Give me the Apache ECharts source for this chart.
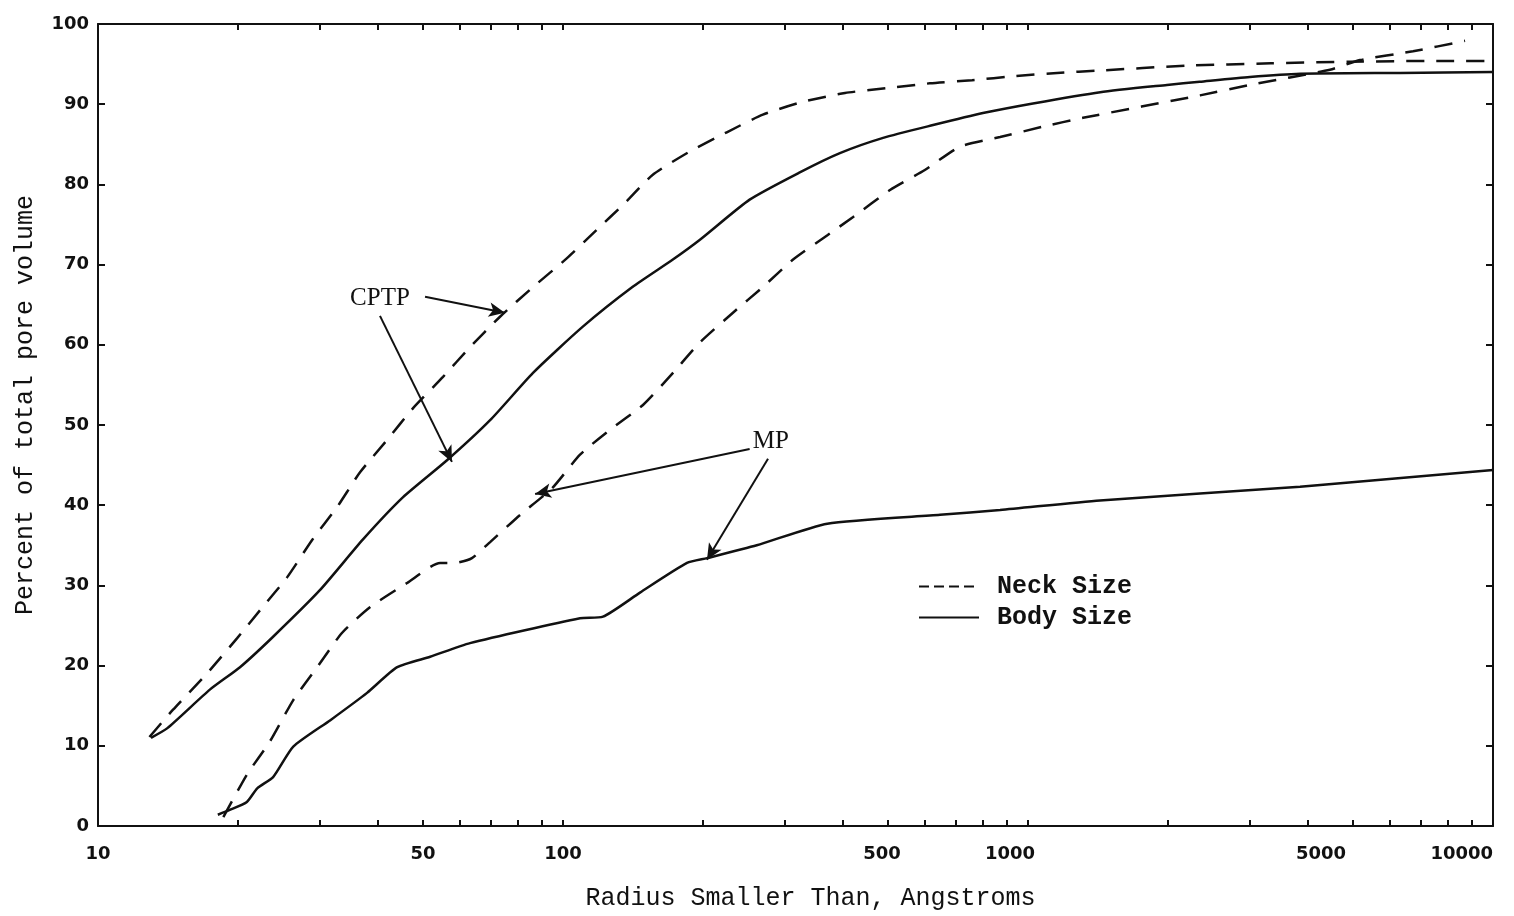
<!DOCTYPE html>
<html>
<head>
<meta charset="utf-8">
<title>Percent of total pore volume</title>
<script src="https://cdn.jsdelivr.net/npm/echarts@6/dist/echarts.min.js"></script>
<style>
  html, body { margin: 0; padding: 0; background: #fff; }
  #main { width: 1514px; height: 916px; }
</style>
</head>
<body>
<div id="main"></div>
<script>
// radius smaller than (Angstroms) / percent of total pore volume
var cptpNeckRadius = [12.9, 14.5, 17.2, 19.9, 22.6, 25.5, 28.9, 32.7, 36.6, 41.8, 47.6, 55.2, 63.1, 73.2, 86.2, 102, 118, 136, 156, 186, 225, 269, 328, 404, 498, 615, 758, 938, 1155, 1430, 2180, 3330, 4930, 7730, 10000];
var cptpNeckPct = [11.1, 14.5, 19.1, 23.4, 27.3, 31.0, 35.7, 39.8, 44.1, 48.1, 52.1, 56.0, 59.7, 63.5, 67.2, 70.8, 74.3, 77.7, 81.2, 84.0, 86.5, 88.7, 90.3, 91.4, 92.0, 92.6, 93.0, 93.5, 93.9, 94.2, 94.8, 95.1, 95.3, 95.4, 95.4];

var cptpBodyRadius = [13, 14.1, 17.4, 20.2, 23.8, 30, 37.1, 45.3, 56.3, 69.7, 86.2, 110, 141, 172, 197, 252, 323, 394, 488, 625, 800, 1025, 1430, 1990, 2340, 3000, 3850, 6310, 10000];
var cptpBodyPct = [11.0, 12.2, 17.0, 19.8, 23.6, 29.4, 35.7, 41.0, 45.6, 50.6, 56.5, 62.2, 67.2, 70.6, 73.1, 78.1, 81.5, 83.9, 85.8, 87.4, 88.9, 90.1, 91.5, 92.4, 92.8, 93.4, 93.8, 93.9, 94.0];

var mpNeckRadius = [18.6, 20.9, 23.4, 26.3, 29.6, 33.5, 38.5, 46.2, 54.4, 58.6, 63.7, 69.7, 80.9, 94.7, 108.8, 126.2, 148.6, 172.4, 197, 232, 269, 312, 371, 420, 505, 600, 714, 871, 1077, 1313, 2344, 3000, 4461, 5176, 6730, 8707];
var mpNeckPct = [1.1, 6.4, 10.5, 15.7, 19.8, 24.1, 27.3, 30.3, 32.8, 32.8, 33.4, 35.4, 38.8, 42.1, 46.3, 49.4, 52.5, 56.5, 60.3, 64.0, 67.2, 70.6, 73.7, 75.9, 79.3, 81.8, 84.7, 85.9, 87.2, 88.3, 91.1, 92.4, 94.3, 95.5, 96.6, 97.9];

var mpBodyRadius = [18.1, 19.2, 20.9, 22.0, 23.8, 26.3, 31.6, 37.9, 44.0, 51.8, 63.1, 108.8, 121.9, 146.4, 184.8, 204, 261, 370, 647, 871, 1428, 3846, 10000];
var mpBodyPct = [1.4, 2.0, 3.0, 4.7, 6.1, 9.9, 13.2, 16.6, 19.8, 21.1, 22.8, 25.9, 26.1, 29.1, 32.8, 33.4, 35.0, 37.7, 38.8, 39.4, 40.6, 42.3, 44.4];

var xLabels = [10, 50, 100, 500, 1000, 5000, 10000];
var xTicks = [10, 20, 30, 40, 50, 60, 70, 80, 90, 100, 200, 300, 400, 500, 600, 700, 800, 900, 1000, 2000, 3000, 4000, 5000, 6000, 7000, 8000, 9000, 10000];

// annotations: [radius, percent]
var cptpLabel = [40.4, 65.8];
var mpLabel = [280, 48.0];
var arrows = [
  [[50.5, 66.0], [75.0, 64.0]],
  [[40.4, 63.6], [57.7, 45.4]],
  [[252, 47.0], [87.1, 41.4]],
  [[276, 45.8], [204, 33.2]]
];

function pairs(xs, ys) {
  return xs.map(function(x, i) { return [x, ys[i]]; });
}

var ink = "#111";
var mono = "'Liberation Mono', 'DejaVu Sans Mono', monospace";
var tickFont = { fontFamily: "'DejaVu Sans', sans-serif", fontWeight: "bold", fontSize: 18, color: ink };
var labelShift = { 500: 12, 1000: 36, 5000: 64 };

var chart = echarts.init(document.getElementById("main"));

var lineBase = { type: "line", xAxisIndex: 0, yAxisIndex: 0, symbol: "none", smooth: 0.2, silent: true };

var option = {
  backgroundColor: "#fff",
  animation: false,
  grid: { left: 98, right: 21, top: 24, bottom: 90 },
  legend: {
    left: 913,
    top: 569,
    orient: "vertical",
    itemWidth: 60,
    itemHeight: 14,
    itemGap: 6,
    selectedMode: false,
    itemStyle: { opacity: 0 },
    data: [
      { name: "Neck Size", lineStyle: { type: [10, 5] } },
      { name: "Body Size" }
    ],
    textStyle: { fontFamily: mono, fontWeight: "bold", fontSize: 25, color: ink, padding: [0, 0, 0, 13] }
  },
  xAxis: [
    { type: "log", logBase: 10, min: 10, max: 10000, show: false, position: "bottom" },
    {
      type: "value", position: "bottom", min: 1, max: 4,
      axisLine: { show: true, onZero: false, lineStyle: { color: ink, width: 2 } },
      axisTick: { show: true, inside: true, length: 6, customValues: xTicks.map(Math.log10), lineStyle: { color: ink, width: 2 } },
      splitLine: { show: false },
      axisLabel: {
        customValues: xLabels.map(Math.log10),
        alignMaxLabel: "right",
        margin: 19,
        formatter: function(v) {
          var r = Math.round(Math.pow(10, v));
          return labelShift[r] ? "{s" + labelShift[r] + "|" + r + "}" : "{s0|" + r + "}";
        },
        rich: {
          s0: tickFont,
          s12: Object.assign({ padding: [0, 12, 0, 0] }, tickFont),
          s36: Object.assign({ padding: [0, 36, 0, 0] }, tickFont),
          s64: Object.assign({ padding: [0, 64, 0, 0] }, tickFont)
        }
      },
      name: "Radius Smaller Than, Angstroms",
      nameLocation: "middle",
      nameGap: 60,
      nameTextStyle: { fontFamily: mono, fontSize: 25, color: ink, padding: [0, 0, 0, 30] }
    },
    {
      type: "value", position: "top", min: 1, max: 4,
      axisLine: { show: true, onZero: false, lineStyle: { color: ink, width: 2 } },
      axisTick: { show: true, inside: true, length: 6, customValues: xTicks.map(Math.log10), lineStyle: { color: ink, width: 2 } },
      axisLabel: { show: false },
      splitLine: { show: false }
    }
  ],
  yAxis: [
    {
      type: "value", position: "left", min: 0, max: 100, interval: 10,
      axisLine: { show: true, onZero: false, lineStyle: { color: ink, width: 2 } },
      axisTick: { show: true, inside: true, length: 7, lineStyle: { color: ink, width: 2 } },
      splitLine: { show: false },
      axisLabel: Object.assign({ margin: 9 }, tickFont),
      name: "Percent of total pore volume",
      nameLocation: "middle",
      nameGap: 60,
      nameTextStyle: { fontFamily: mono, fontSize: 25, color: ink, padding: [0, 0, 0, 40] }
    },
    {
      type: "value", position: "right", min: 0, max: 100, interval: 10,
      axisLine: { show: true, onZero: false, lineStyle: { color: ink, width: 2 } },
      axisTick: { show: true, inside: true, length: 7, lineStyle: { color: ink, width: 2 } },
      axisLabel: { show: false },
      splitLine: { show: false }
    }
  ],
  series: [
    Object.assign({}, lineBase, {
      name: "Neck Size",
      data: pairs(cptpNeckRadius, cptpNeckPct),
      lineStyle: { color: ink, width: 2.5, type: [18, 12] },
      itemStyle: { color: ink }
    }),
    Object.assign({}, lineBase, {
      name: "Neck Size",
      data: pairs(mpNeckRadius, mpNeckPct),
      lineStyle: { color: ink, width: 2.5, type: [18, 12] },
      itemStyle: { color: ink }
    }),
    Object.assign({}, lineBase, {
      name: "Body Size",
      data: pairs(cptpBodyRadius, cptpBodyPct),
      lineStyle: { color: ink, width: 2.5, type: "solid" },
      itemStyle: { color: ink }
    }),
    Object.assign({}, lineBase, {
      name: "Body Size",
      data: pairs(mpBodyRadius, mpBodyPct),
      lineStyle: { color: ink, width: 2.5, type: "solid" },
      itemStyle: { color: ink },
      markLine: {
        silent: true,
        animation: false,
        symbol: ["none", "arrow"],
        symbolSize: [11, 16],
        label: { show: false },
        lineStyle: { color: ink, width: 2, type: "solid" },
        data: arrows.map(function(a) {
          return [{ coord: a[0] }, { coord: a[1] }];
        })
      },
      markPoint: {
        silent: true,
        animation: false,
        symbol: "circle",
        symbolSize: 1,
        itemStyle: { color: "rgba(0,0,0,0)" },
        label: {
          show: true,
          position: "inside",
          formatter: "{b}",
          fontFamily: "'Liberation Serif', serif",
          fontSize: 25,
          color: ink
        },
        data: [
          { name: "CPTP", coord: cptpLabel },
          { name: "MP", coord: mpLabel }
        ]
      }
    })
  ]
};

chart.setOption(option);
</script>
</body>
</html>
